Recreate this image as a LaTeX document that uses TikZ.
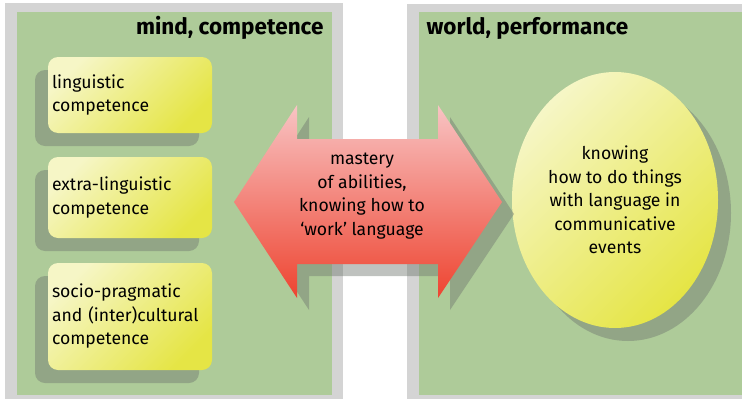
\documentclass[tikz,border=0pt]{standalone}
\usepackage{fontspec}
\setmainfont{Fira Sans}
\usetikzlibrary{shapes.geometric}
\usetikzlibrary{shadows}
\definecolor{panelgreen}{HTML}{AECB99}
\definecolor{framegray}{HTML}{D4D4D4}
\definecolor{palelemon}{HTML}{F6F6C6}
\definecolor{lemon}{HTML}{E5E545}
\definecolor{palered}{HTML}{F8C4C4}
\definecolor{deepred}{HTML}{EE4430}
\definecolor{shadowgray}{HTML}{707870}
\tikzset{
  shadowed/.style 2 args={drop shadow={shadow xshift=#1, shadow yshift=#2, fill=shadowgray, opacity=.45}},
  lemonfill/.style={top color=palelemon, bottom color=lemon, shading angle=45},
  bodytext/.style={font=\fontsize{17.6}{23.5}\selectfont},
  compbox/.style={rounded corners=10pt, minimum width=164pt, text width=156pt,
    inner xsep=4pt, align=left, lemonfill, shadowed={-13pt}{-13pt}, bodytext},
  paneltitle/.style={font=\bfseries\fontsize{22.5}{26}\selectfont}
}

\begin{document}
\begin{tikzpicture}[x=1pt, y=-1pt]
      \useasboundingbox (0, 0) rectangle (742, 399);
      % panels
      \fill[framegray] (5, 3) rectangle (343, 399);
      \fill[panelgreen] (17, 12) rectangle (332, 395);
      \fill[framegray] (407, 4) rectangle (742, 399);
      \fill[panelgreen] (419, 12) rectangle (742, 395);
      \node[paneltitle, anchor=base east] (mind) at (327, 34) {mind, competence};
      \node[paneltitle, anchor=base west] (world) at (423, 34) {world, performance};
      % competences
      \node[compbox, minimum height=76pt] (ling) at (130, 95)
        {linguistic\\competence};
      \node[compbox, minimum height=81pt] (extra) at (130, 197.5)
        {extra-linguistic\\competence};
      \node[compbox, minimum height=107pt] (socio) at (130, 316.5)
        {socio-pragmatic\\and (inter)cultural\\competence};
      % performance
      \node[ellipse, lemonfill, shadowed={13pt}{-13pt}, minimum width=206pt,
        minimum height=256pt, align=center, inner sep=0pt, bodytext] (events)
        at (615, 200)
        {knowing\\how to do things\\with language in\\communicative\\events};
      % double arrow
      \path[top color=palered, bottom color=deepred, shadowed={12pt}{-12pt}]
        (234, 202) -- (297, 105) -- (297, 139) -- (438, 139) -- (438, 105)
        -- (502, 202) -- (438, 298) -- (438, 264) -- (297, 264) -- (297, 298)
        -- cycle;
      \node[align=center, bodytext] (mastery) at (362, 196)
        {mastery\\of abilities,\\knowing how to\\‘work’ language};
    \end{tikzpicture}
\end{document}
